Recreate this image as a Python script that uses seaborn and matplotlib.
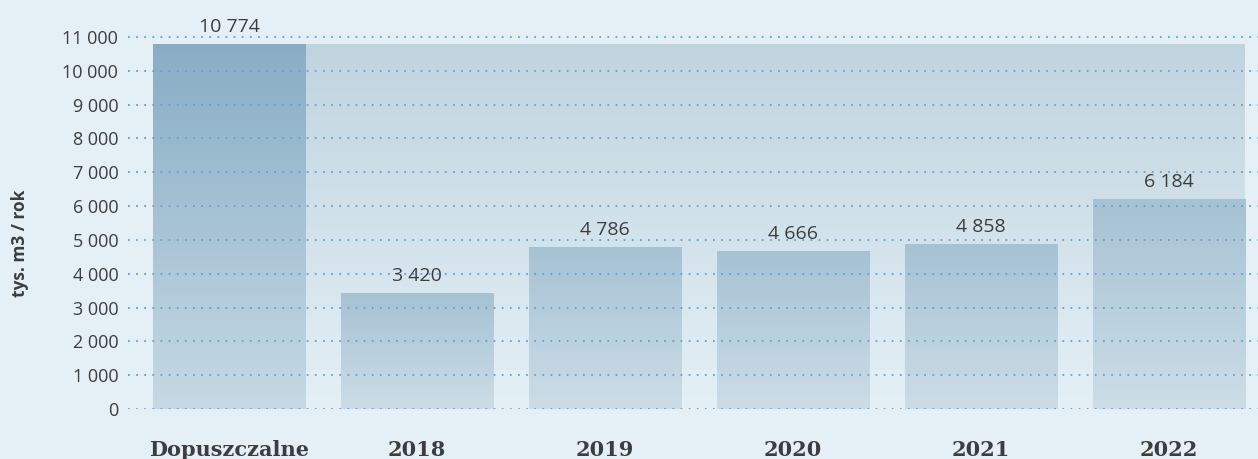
import numpy as np
import pandas as pd
import matplotlib
matplotlib.use("Agg")
import matplotlib.pyplot as plt
import matplotlib.colors as mcolors
from matplotlib.ticker import FuncFormatter
import seaborn as sns

categories = ["Dopuszczalne", "2018", "2019", "2020", "2021", "2022"]
values = [10774, 3420, 4786, 4666, 4858, 6184]
y_ticks = [0, 1000, 2000, 3000, 4000, 5000, 6000, 7000, 8000, 9000, 10000, 11000]

BG = "#e4f0f6"
TEXT = "#3d3d3d"


def fmt(v):
    return "{:,}".format(int(v)).replace(",", " ")


def gradient_fill(ax, x0, x1, y0, y1, c_top, c_bot, zorder):
    cmap = mcolors.LinearSegmentedColormap.from_list("g", [c_bot, c_top])
    grad = np.linspace(0, 1, 256).reshape(-1, 1)
    ax.imshow(grad, cmap=cmap, origin="lower", aspect="auto",
              extent=(x0, x1, y0, y1), zorder=zorder, interpolation="bilinear")


df = pd.DataFrame({"kategoria": categories, "wartosc": values})

sns.set_style("white")
plt.rcParams["font.family"] = ["Open Sans", "DejaVu Sans"]

fig = plt.figure(figsize=(12.58, 4.59), dpi=100)
fig.patch.set_facecolor(BG)
ax = fig.add_axes([128 / 1258, 50 / 459, 1130 / 1258, 409 / 459])
ax.set_facecolor(BG)

sns.barplot(data=df, x="kategoria", y="wartosc", ax=ax, width=0.81,
            color="#a6c2d3", saturation=1, errorbar=None)

ax.set_xlim(-0.537, 5.474)
ax.set_ylim(0, 11000 * 409 / 372)

patches = list(ax.patches)
# light band behind the yearly bars, as high as the allowed value
first = patches[0]
last = patches[-1]
gradient_fill(ax, first.get_x() + first.get_width(), last.get_x() + last.get_width(),
              0, first.get_height(), "#c0d4df", "#e4f0f6", zorder=0.5)

for i, p in enumerate(patches):
    x0, w, h = p.get_x(), p.get_width(), p.get_height()
    if i == 0:
        top, bot = "#88adc5", "#c6d9e4"
    else:
        top, bot = "#a6c2d3", "#ccdde7"
    gradient_fill(ax, x0, x0 + w, 0, h, top, bot, zorder=1)
    p.set_visible(False)
    ax.text(x0 + w / 2, h + 250, fmt(h), ha="center", va="bottom",
            fontsize=14, color=TEXT, clip_on=False, zorder=5)

ax.set_yticks(y_ticks)
ax.yaxis.set_major_formatter(FuncFormatter(lambda v, pos: fmt(v)))
ax.grid(axis="y", color="#5aa3da", linestyle=(0, (1, 3.5)), linewidth=1.3)
ax.set_axisbelow(False)
for gl in ax.get_ygridlines():
    gl.set_zorder(3)
ax.grid(axis="x", visible=False)

ax.tick_params(axis="y", length=0, pad=7, labelsize=13, labelcolor=TEXT)
ax.tick_params(axis="x", length=0, pad=22, labelsize=15, labelcolor=TEXT)
for lab in ax.get_xticklabels():
    lab.set_fontfamily(["DejaVu Serif"])
    lab.set_fontweight("bold")

sns.despine(ax=ax, left=True, bottom=True)
ax.set_xlabel("")
ax.set_ylabel("tys. m3 / rok", fontsize=12.5, fontweight="bold", color=TEXT)
ax.yaxis.set_label_coords(-0.088, 0.406)

fig.savefig("out.png", dpi=100, facecolor=BG)
